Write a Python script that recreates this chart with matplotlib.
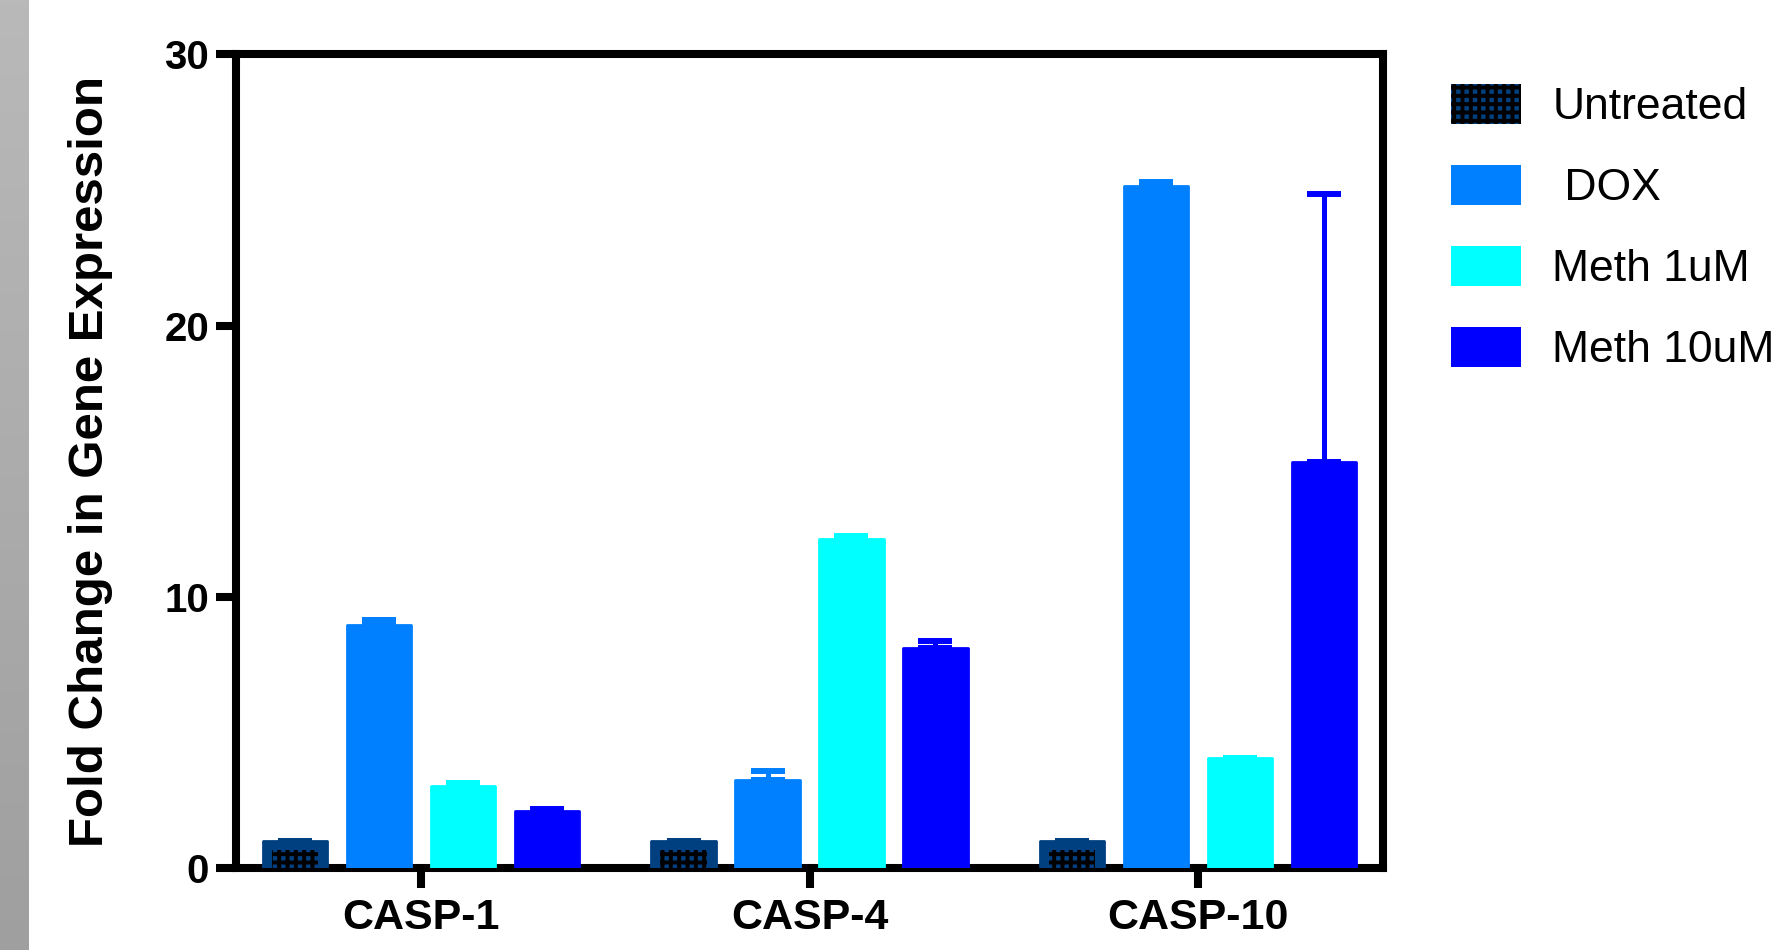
import numpy as np
import matplotlib
matplotlib.use("Agg")
import matplotlib.pyplot as plt
from matplotlib.patches import Patch
from matplotlib.legend_handler import HandlerTuple
from matplotlib.colors import LinearSegmentedColormap

categories = ["CASP-1", "CASP-4", "CASP-10"]
series_names = ["Untreated", " DOX", "Meth 1uM", "Meth 10uM"]
untreated = [1.0, 1.0, 1.0]
dox = [8.95, 3.23, 25.15]
meth1 = [3.02, 12.13, 4.05]
meth10 = [2.09, 8.12, 14.97]
untreated_err = [0.0, 0.0, 0.0]
dox_err = [0.2, 0.35, 0.15]
meth1_err = [0.1, 0.1, 0.0]
meth10_err = [0.08, 0.25, 9.9]
yticks = [0, 10, 20, 30]

colors = ["#003F80", "#0080FF", "#00FFFF", "#0000FF"]
values = [untreated, dox, meth1, meth10]
errors = [untreated_err, dox_err, meth1_err, meth10_err]

plt.rcParams['font.family'] = ['Liberation Sans', 'DejaVu Sans']
plt.rcParams['hatch.linewidth'] = 2.8

fig = plt.figure(figsize=(17.8, 9.5), dpi=100)

# grey strip at left edge
sax = fig.add_axes([0, 0, 29 / 1780, 1])
grad = np.linspace(0, 1, 256).reshape(-1, 1)
cm = LinearSegmentedColormap.from_list("g", ["#b9b9b9", "#9f9f9f"])
sax.imshow(grad, aspect="auto", cmap=cm, extent=[0, 1, 0, 1], origin="upper")
sax.axis("off")

ax = fig.add_axes([236 / 1780, 1 - 868 / 950, (1383 - 236) / 1780, (868 - 54.5) / 950])

x = np.arange(len(categories))
step = 0.216
width = 0.165
offsets = (np.arange(4) - 1.5) * step

for i, (vals, errs, c) in enumerate(zip(values, errors, colors)):
    xs = x + offsets[i]
    ax.errorbar(xs, vals, yerr=[np.zeros(len(vals)), errs], fmt="none",
                ecolor=c, elinewidth=3.6, capsize=11.9, capthick=4.3, zorder=2)
    ax.bar(xs, vals, width=width, color=c, edgecolor=c, linewidth=2,
           joinstyle="round", zorder=3)
    if i == 0:
        inner = [v * 0.68 for v in vals]
        ax.bar(xs, inner, width=width * 0.72, facecolor="none",
               edgecolor="black", linewidth=0, hatch="++", zorder=4)

ax.set_xlim(-0.475, 2.475)
ax.set_ylim(0, 30)
ax.set_xticks(x)
ax.set_xticklabels(categories, fontsize=31, fontweight="bold")
ax.set_yticks(yticks)
ax.set_yticklabels([str(t) for t in yticks], fontsize=29, fontweight="bold")
ax.tick_params(axis="both", direction="out", length=14.4, width=5.8, color="black")
ax.tick_params(axis="y", pad=5)
ax.tick_params(axis="x", pad=7)
for s in ax.spines.values():
    s.set_linewidth(5.8)
    s.set_color("black")
    s.set_capstyle("projecting")

ax.set_ylabel("Fold Change in Gene Expression", fontsize=35.5, fontweight="bold")
ax.yaxis.set_label_coords(-0.107, 0.5)

# legend
h_untreated = (Patch(facecolor=colors[0], edgecolor=colors[0], linewidth=0),
               Patch(facecolor="none", edgecolor="black", linewidth=0, hatch="++"))
handles = [h_untreated] + [Patch(facecolor=c, edgecolor=c, linewidth=0) for c in colors[1:]]
leg = fig.legend(handles, series_names, loc="upper left",
                 bbox_to_anchor=(1451 / 1780, 1 - 84 / 950),
                 frameon=False, fontsize=32, handlelength=1.58, handleheight=1.0,
                 labelspacing=0.83, handletextpad=0.7, borderaxespad=0, borderpad=0,
                 handler_map={tuple: HandlerTuple(ndivide=1, pad=0)})

fig.savefig("out.png", dpi=100, facecolor="white")
